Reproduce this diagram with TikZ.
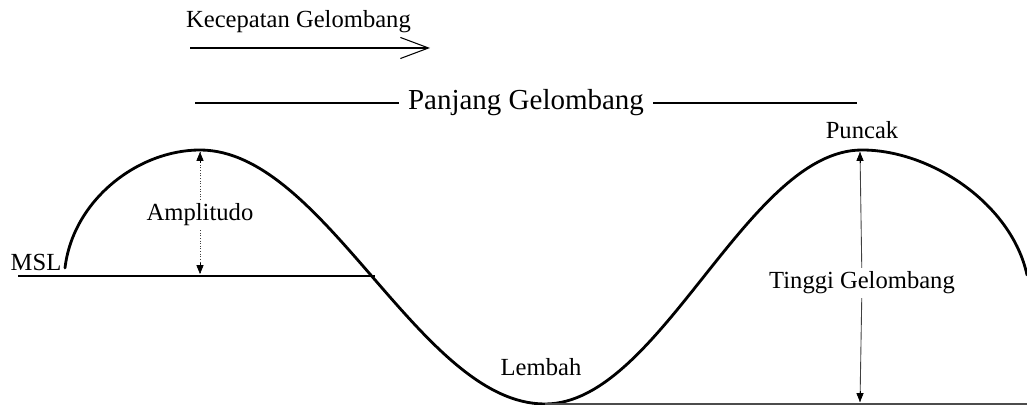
\documentclass[tikz,border=0pt]{standalone}
\usepackage{fontspec}
\setmainfont{Liberation Serif}
\usetikzlibrary{arrows.meta,positioning}

\begin{document}
\begin{tikzpicture}[x=0.02cm,y=0.02cm,>={Triangle[length=5pt,width=4pt]},
  lbl/.style={font=\fontsize{14}{16}\selectfont,inner sep=1pt},
  wave/.style={line width=1.6pt,line cap=round},
  guide/.style={line width=0.6pt},
  meas/.style={line width=0.5pt,black!75}]
\useasboundingbox (0,0) rectangle (1027,405);
% wave
\coordinate (s0) at (65,137);\coordinate (c1) at (200,255);
\coordinate (tr) at (545,1);\coordinate (c2) at (862,255);
\coordinate (e0) at (1027,130);
\draw[wave] (s0) .. controls (73,205) and (138,255) .. (c1)
  .. controls (325,255) and (420,1) .. (tr)
  .. controls (660,1) and (747,255) .. (c2)
  .. controls (932,255) and (1012,200) .. (e0);
% levels
\node[lbl] (msl) at (36,143) {MSL};
\coordinate (m0) at (18,129);\coordinate (m1) at (375,129);
\draw[guide] (m0)--(m1);
\coordinate (b2) at (1027,1);
\draw[guide,black!70] (tr)--(b2);
% speed
\node[lbl,anchor=west] (kec) at (184,383) {Kecepatan Gelombang};
\coordinate (k0) at (190,357);\coordinate (k1) at (430,357);
\draw[line width=0.6pt,-{Straight Barb[length=16pt,width=12pt,line width=0.6pt]}] (k0)--(k1);
% wavelength
\node[font=\fontsize{16.5}{18}\selectfont,inner sep=5pt] (pjg) at (526,302) {Panjang Gelombang};
\coordinate (p0) at (195,302);\coordinate (p1) at (857,302);
\draw[guide] (p0)--(pjg.west);\draw[guide] (pjg.east)--(p1);
% amplitude
\node[lbl,fill=white,inner sep=2pt] (amp) at (200,190) {Amplitudo};
\coordinate (a0) at (200,253);\coordinate (a1) at (200,131);
\draw[meas,densely dotted] (amp)--(a0);\draw[meas,densely dotted] (amp)--(a1);
\draw[->,line width=0.4pt] ([yshift=-6pt]a0)--(a0);
\draw[->,line width=0.4pt] ([yshift=6pt]a1)--(a1);
% height
\node[lbl,anchor=base] (pnc) at (862,266) {Puncak};
\node[lbl,fill=white,inner sep=2pt] (tgi) at (862,122) {Tinggi Gelombang};
\coordinate (t0) at (860,253);\coordinate (t1) at (860,3);
\draw[meas] (tgi)--(t0);\draw[meas] (tgi)--(t1);
\draw[->,line width=0.4pt] ([yshift=-6pt]t0)--(t0);
\draw[->,line width=0.4pt] ([yshift=6pt]t1)--(t1);
\node[lbl] (lmb) at (541,38) {Lembah};
\end{tikzpicture}
\end{document}
